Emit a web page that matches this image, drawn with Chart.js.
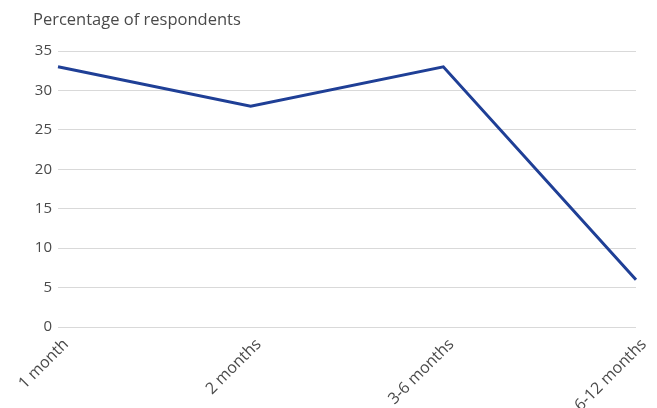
<!DOCTYPE html>
<html>
<head>
<meta charset="utf-8">
<script src="https://cdn.jsdelivr.net/npm/chart.js@4"></script>
<style>
  html, body { margin: 0; padding: 0; background: #fff; }
  #wrap { width: 657px; height: 408px; position: relative; }
</style>
</head>
<body>
<div id="wrap"><canvas id="chartcontainer"></canvas></div>
<script>
var categories = ["1 month", "2 months", "3-6 months", "6-12 months"];
var respondents = [33, 28, 33, 6];
var yTitle = "Percentage of respondents";

var textColor = "#4a4a4a";
var fontFamily = "'Open Sans', 'Noto Sans', sans-serif";

// titre en haut à gauche, hors de la zone du graphique
var titlePlugin = {
    id: "topTitle",
    afterDraw: function(chart) {
        var ctx = chart.ctx;
        ctx.save();
        ctx.fillStyle = textColor;
        ctx.font = "16.5px " + fontFamily;
        ctx.textAlign = "left";
        ctx.textBaseline = "middle";
        ctx.fillText(yTitle, 33, 20);
        ctx.restore();
    }
};

var ctx = document.getElementById("chartcontainer").getContext("2d");
var chart = new Chart(ctx, {
    type: "line",
    data: {
        labels: categories,
        datasets: [{
            data: respondents,
            borderColor: "#1f3f96",
            borderWidth: 3,
            pointRadius: 0,
            tension: 0,
            fill: false
        }]
    },
    options: {
        responsive: true,
        maintainAspectRatio: false,
        animation: false,
        layout: {
            padding: { top: 51, right: 21, left: 0, bottom: 0 }
        },
        plugins: {
            legend: { display: false },
            tooltip: { enabled: false },
            title: { display: false }
        },
        scales: {
            x: {
                offset: false,
                grid: { display: false },
                border: { display: false },
                ticks: {
                    maxRotation: 45,
                    minRotation: 45,
                    autoSkip: false,
                    padding: 0,
                    labelOffset: 8,
                    color: textColor,
                    font: { family: fontFamily, size: 16 }
                },
                afterFit: function(scale) { scale.height = 81; }
            },
            y: {
                min: 0,
                max: 35,
                ticks: {
                    stepSize: 5,
                    padding: 6,
                    color: textColor,
                    font: { family: fontFamily, size: 15 }
                },
                grid: { color: "#d9d9d9", lineWidth: 1, drawTicks: false },
                border: { display: false },
                afterFit: function(scale) { scale.width = 58; }
            }
        }
    },
    plugins: [titlePlugin]
});
</script>
</body>
</html>
